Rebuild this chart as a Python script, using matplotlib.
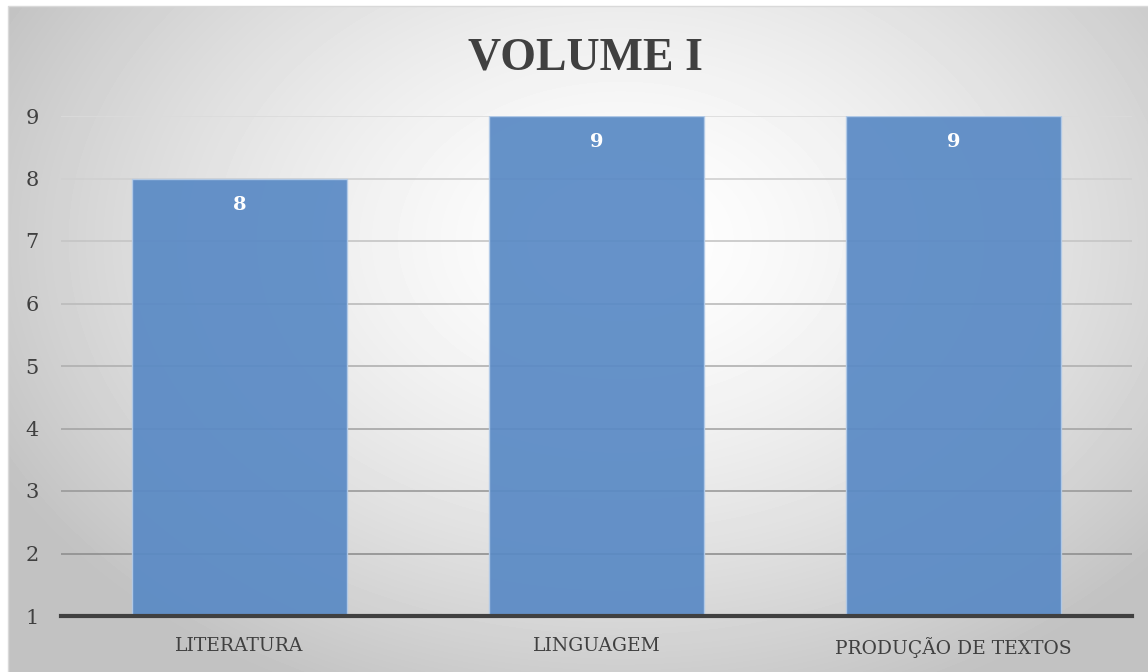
import numpy as np
import matplotlib.pyplot as plt

categorias = ["LITERATURA", "LINGUAGEM", "PRODUÇÃO DE TEXTOS"]
valores = [8, 9, 9]
titulo = "VOLUME I"
yticks = [1, 2, 3, 4, 5, 6, 7, 8, 9]

W, H = 1148, 672
fig = plt.figure(figsize=(W / 100, H / 100), dpi=100)

# fundo com degradê radial (branco no centro, cinza nas bordas)
bg = fig.add_axes([0, 0, 1, 1])
bg.set_xlim(0, W)
bg.set_ylim(H, 0)
bg.axis("off")
xx, yy = np.meshgrid(np.arange(8, W), np.arange(6, H))
r = np.sqrt(((xx - 620) / 700.0) ** 2 + ((yy - 240) / 500.0) ** 2)
shade = 1.0 - 0.24 * np.clip(r, 0, 1) ** 1.5
bg.imshow(shade, cmap="gray", vmin=0, vmax=1, extent=(8, W, H, 6),
          aspect="auto", interpolation="bilinear")
bg.plot([8, 8, W], [H, 6, 6], color="#d9d9d9", lw=1)

ax = fig.add_axes([61 / W, 1 - 616 / H, 1071 / W, 500 / H])
ax.patch.set_alpha(0)
x = np.arange(len(categorias))

# linhas de grade: mais claras no topo, mais escuras embaixo
for t in yticks[1:]:
    k = (t - 2) / 7.0
    g = 0.56 + 0.30 * k
    ax.axhline(t, color=(g, g, g), linewidth=1.2, zorder=1)

bars = ax.bar(x, valores, width=0.6, color="#5a8ac5", alpha=0.93,
              edgecolor="#b3cbe8", linewidth=1, zorder=2)
for b, v in zip(bars, valores):
    ax.text(b.get_x() + b.get_width() / 2, v - 0.42, str(v), ha="center", va="center",
            color="white", fontsize=14, fontweight="bold", family="DejaVu Serif", zorder=3)

ax.set_xlim(-0.5, 2.5)
ax.set_ylim(1, 9)
ax.set_yticks(yticks)
ax.set_xticks(x)
ax.set_xticklabels(categorias)
for s in ["left", "right", "top"]:
    ax.spines[s].set_visible(False)
ax.spines["bottom"].set_color("#404040")
ax.spines["bottom"].set_linewidth(3)
ax.spines["bottom"].set_zorder(4)
ax.tick_params(axis="both", length=0, colors="#404040")
ax.tick_params(axis="y", pad=16, labelsize=15)
ax.tick_params(axis="x", pad=15, labelsize=13.5)
for lab in ax.get_xticklabels() + ax.get_yticklabels():
    lab.set_family("DejaVu Serif")

fig.text(585 / W, 1 - 59 / H, titulo, ha="center", va="center", fontsize=33,
         fontweight="bold", family="Liberation Serif", color="#404040")

fig.savefig("out.png", dpi=100)
